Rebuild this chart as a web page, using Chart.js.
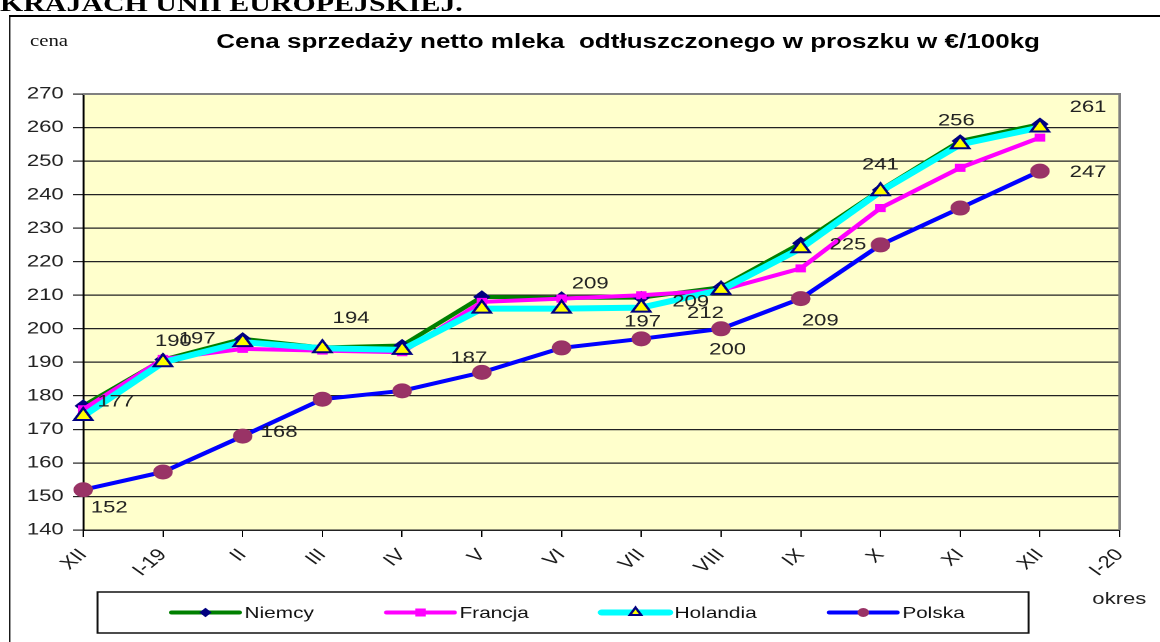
<!DOCTYPE html>
<html>
<head>
<meta charset="utf-8">
<script src="https://cdn.jsdelivr.net/npm/chart.js@4/dist/chart.umd.min.js"></script>
<style>
  body { margin: 0; background: #fff; overflow: hidden; width: 1160px; height: 642px; }
  /* oryginal jest rozciagniety w poziomie, wiec calosc skalujemy */
  #wrap { position: relative; width: 892px; height: 642px; overflow: hidden; transform: scaleX(1.3004); transform-origin: 0 0; }
  #head { position: absolute; left: 0; top: -9px; line-height: 23px; font: bold 23px "Liberation Serif"; color: #000; white-space: nowrap; }
  #frame { position: absolute; left: 7px; top: 15px; width: 1000px; height: 700px; border-left: 1.6px solid #000; border-top: 2px solid #000; }
  #cena { position: absolute; left: 23px; top: 32px; font: 16px "Liberation Serif"; color: #111; }
  #title { position: absolute; left: 164px; width: 638px; top: 30px; text-align: center; font: bold 20px "Liberation Sans"; color: #000; white-space: nowrap; }
  #okres { position: absolute; left: 840px; top: 589px; font: 17px "Liberation Sans"; color: #222; }
  canvas { position: absolute; left: 0; top: 0; }
</style>
</head>
<body>
<div id="wrap">
  <div id="head">KRAJACH UNII EUROPEJSKIEJ.</div>
  <div id="frame"></div>
  <div id="cena">cena</div>
  <div id="title">Cena sprzedaży netto mleka&nbsp; odtłuszczonego w proszku w €/100kg</div>
  <div id="okres">okres</div>
  <canvas id="myChart" width="892" height="642"></canvas>
</div>
<script>
// dane
const categories = ['XII', 'I-19', 'II', 'III', 'IV', 'V', 'VI', 'VII', 'VIII', 'IX', 'X', 'XI', 'XII', 'I-20'];
const niemcy   = [177, 190.8, 197, 194.4, 195, 209.5, 209.2, 209.3, 212.4, 225.5, 241.4, 256, 261, null];
const francja  = [176, 191, 194, 193.5, 193, 208, 209, 210, 211.5, 218, 236, 248, 257, null];
const holandia = [174, 190, 196, 194.2, 193.7, 206, 206, 206.3, 211.6, 224, 241, 255, 260, null];
const polska   = [152, 157.3, 168, 179, 181.5, 187, 194.3, 197, 200, 209, 225, 236, 247, null];
const yMin = 140, yMax = 270, yStep = 10;

// ktore punkty maja etykiety i przesuniecie etykiety [dx, dy]
const labelPlacement = {
  0: { 0: [25, -4], 2: [-35, 0], 3: [22, -29], 6: [22, -14], 7: [38, 4], 8: [-12, 26], 10: [0, -25], 11: [-3, -20], 12: [37, -17] },
  2: { 1: [8, -21] },
  3: { 0: [20, 18], 2: [28, -4], 5: [-10, -14], 7: [1, -17], 8: [5, 21], 9: [15, 22], 10: [-25, 0], 12: [37, 1] }
};

Chart.defaults.font.family = '"Liberation Sans", Arial, sans-serif';
Chart.defaults.font.size = 16;
Chart.defaults.color = '#222';

// tlo obszaru wykresu
const plotBg = {
  id: 'plotBg',
  beforeDraw(chart) {
    const a = chart.chartArea, c = chart.ctx;
    c.save();
    c.fillStyle = '#FFFFCC';
    c.fillRect(a.left, a.top, a.right - a.left, a.bottom - a.top);
    c.restore();
  },
  afterDraw(chart) {
    const a = chart.chartArea, c = chart.ctx;
    c.save();
    c.strokeStyle = '#808080';
    c.lineWidth = 2;
    c.beginPath();
    c.moveTo(a.left, a.top);
    c.lineTo(a.right, a.top);
    c.lineTo(a.right, a.bottom);
    c.stroke();
    c.restore();
  }
};

// etykiety wartosci
const valueLabels = {
  id: 'valueLabels',
  afterDatasetsDraw(chart) {
    const c = chart.ctx;
    c.save();
    c.font = '17px "Liberation Sans"';
    c.fillStyle = '#222';
    c.textAlign = 'center';
    c.textBaseline = 'middle';
    Object.keys(labelPlacement).forEach(di => {
      const meta = chart.getDatasetMeta(+di);
      const ds = chart.data.datasets[+di];
      Object.keys(labelPlacement[di]).forEach(i => {
        const pt = meta.data[+i];
        const off = labelPlacement[di][i];
        c.fillText(Math.round(ds.data[+i]), pt.x + off[0], pt.y + off[1]);
      });
    });
    c.restore();
  }
};

// legenda w ramce
const boxLegend = {
  id: 'boxLegend',
  afterDraw(chart) {
    const c = chart.ctx;
    const top = 592, bottom = 633, left = 75, right = 791;
    const cy = (top + bottom) / 2;
    c.save();
    c.fillStyle = '#fff';
    c.fillRect(left, top, right - left, bottom - top);
    c.strokeStyle = '#111';
    c.lineWidth = 1.5;
    c.strokeRect(left, top, right - left, bottom - top);
    c.font = '16px "Liberation Sans"';
    c.textBaseline = 'middle';
    let x = 132;
    chart.data.datasets.forEach(ds => {
      c.strokeStyle = ds.borderColor;
      c.lineWidth = ds.borderWidth;
      c.lineCap = 'round';
      c.beginPath();
      c.moveTo(x, cy);
      c.lineTo(x + 52, cy);
      c.stroke();
      c.fillStyle = ds.pointBackgroundColor;
      c.strokeStyle = ds.pointBorderColor;
      c.lineWidth = ds.pointBorderWidth;
      Chart.helpers.drawPoint(c, {
        pointStyle: ds.pointStyle,
        radius: ds.legendRadius,
        borderWidth: ds.pointBorderWidth
      }, x + 26, cy);
      c.fillStyle = '#111';
      c.fillText(ds.label, x + 56, cy + 1);
      x += 56 + c.measureText(ds.label).width + 56;
    });
    c.restore();
  }
};

let ctx = document.getElementById('myChart').getContext('2d');
let chart = new Chart(ctx, {
  type: 'line',
  data: {
    labels: categories,
    datasets: [{
      label: 'Niemcy',
      data: niemcy,
      borderColor: '#008000',
      borderWidth: 4,
      pointStyle: 'rectRot',
      pointRadius: 6,
      legendRadius: 4,
      pointBackgroundColor: '#000080',
      pointBorderColor: '#000080',
      pointBorderWidth: 1,
      order: 3
    }, {
      label: 'Francja',
      data: francja,
      borderColor: '#FF00FF',
      borderWidth: 4,
      pointStyle: 'rect',
      pointRadius: 5,
      legendRadius: 5,
      pointBackgroundColor: '#FF00FF',
      pointBorderColor: '#FF00FF',
      pointBorderWidth: 1,
      order: 2
    }, {
      label: 'Holandia',
      data: holandia,
      borderColor: '#00FFFF',
      borderWidth: 6,
      pointStyle: 'triangle',
      pointRadius: 8,
      legendRadius: 5,
      pointBackgroundColor: '#FFFF00',
      pointBorderColor: '#000080',
      pointBorderWidth: 2,
      order: 1
    }, {
      label: 'Polska',
      data: polska,
      borderColor: '#0000FF',
      borderWidth: 4,
      pointStyle: 'circle',
      pointRadius: 7,
      legendRadius: 4,
      pointBackgroundColor: '#993366',
      pointBorderColor: '#993366',
      pointBorderWidth: 1,
      order: 0
    }]
  },
  options: {
    responsive: false,
    animation: false,
    devicePixelRatio: 2,
    layout: { padding: { top: 94, left: 0, right: 31, bottom: 0 } },
    plugins: {
      legend: { display: false },
      title: { display: false },
      tooltip: { enabled: false }
    },
    scales: {
      x: {
        offset: false,
        grid: { drawOnChartArea: false, drawTicks: true, tickLength: 7, color: '#000' },
        border: { color: '#222', width: 1.5 },
        ticks: { autoSkip: false, maxRotation: 47, minRotation: 47, padding: 8, color: '#1a1a1a', font: { size: 17 } },
        afterFit(scale) { scale.height = 112; scale.paddingLeft = 0; scale.paddingRight = 0; }
      },
      y: {
        min: yMin,
        max: yMax,
        grid: { color: '#222', lineWidth: 1.2, tickLength: 8, drawTicks: true },
        border: { color: '#000', width: 1.5 },
        ticks: { stepSize: yStep, padding: 7, color: '#222', font: { size: 17 } },
        afterFit(scale) { scale.width = 64; scale.paddingTop = 0; scale.paddingBottom = 0; }
      }
    }
  },
  plugins: [plotBg, valueLabels, boxLegend]
});
</script>
</body>
</html>
